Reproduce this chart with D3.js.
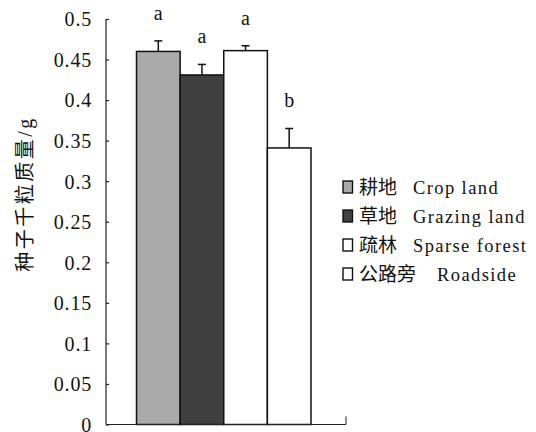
<!DOCTYPE html>
<html>
<head>
<meta charset="utf-8">
<script src="https://cdn.jsdelivr.net/npm/d3@7"></script>
<style>
  html, body { margin: 0; padding: 0; background: #fff; }
  svg { display: block; }
</style>
</head>
<body>
<svg id="chart" width="536" height="432"></svg>
<script>
// Thousand-seed mass by habitat type (mean ± SE) with significance letters
const categories = ["耕地 Crop land", "草地 Grazing land", "疏林 Sparse forest", "公路旁 Roadside"];
const cnNames = ["耕地", "草地", "疏林", "公路旁"];
const enNames = ["Crop land", "Grazing land", "Sparse forest", "Roadside"];
const means = [0.460, 0.431, 0.461, 0.341];
const errors = [0.013, 0.013, 0.006, 0.024];
const letters = ["a", "a", "a", "b"];
const yTicks = [0, 0.05, 0.1, 0.15, 0.2, 0.25, 0.3, 0.35, 0.4, 0.45, 0.5];
const yTickLabels = ["0", "0.05", "0.1", "0.15", "0.2", "0.25", "0.3", "0.35", "0.4", "0.45", "0.5"];
const yTitle = "种子千粒质量/g";

const fills = ["#aaaaaa", "#404040", "#ffffff", "#ffffff"];
const SERIF = "'Liberation Serif', 'DejaVu Serif', 'Noto Sans CJK SC', serif";

const svg = d3.select("#chart");

const plot = { left: 106, right: 346, top: 19, bottom: 424.5 };

const y = d3.scaleLinear().domain([0, 0.5]).range([plot.bottom, plot.top]);
const x = d3.scaleBand().domain(categories).range([136.5, 311]).paddingInner(0).paddingOuter(0);

// bars
svg.append("g").selectAll("rect")
  .data(categories)
  .join("rect")
  .attr("x", d => x(d))
  .attr("y", (d, i) => y(means[i]))
  .attr("width", x.bandwidth())
  .attr("height", (d, i) => y(0) - y(means[i]))
  .attr("fill", (d, i) => fills[i])
  .attr("stroke", "#111")
  .attr("stroke-width", 1.5);

// error bars (upper half only)
const eb = svg.append("g").attr("stroke", "#111").attr("stroke-width", 1.5);
categories.forEach((c, i) => {
  const cx = x(c) + x.bandwidth() / 2;
  eb.append("line").attr("x1", cx).attr("x2", cx).attr("y1", y(means[i])).attr("y2", y(means[i] + errors[i]));
  eb.append("line").attr("x1", cx - 4).attr("x2", cx + 4).attr("y1", y(means[i] + errors[i])).attr("y2", y(means[i] + errors[i]));
});

// significance letters
svg.append("g").selectAll("text")
  .data(categories)
  .join("text")
  .attr("x", d => x(d) + x.bandwidth() / 2)
  .attr("y", (d, i) => y(means[i] + errors[i]) - 21)
  .attr("text-anchor", "middle")
  .style("font-family", SERIF)
  .style("font-size", "20px")
  .attr("fill", "#111")
  .text((d, i) => letters[i]);

// y axis with inward ticks
const yAxis = d3.axisLeft(y)
  .tickValues(yTicks)
  .tickFormat((d, i) => yTickLabels[i])
  .tickSize(-3)
  .tickPadding(14);
const gy = svg.append("g").attr("transform", `translate(${plot.left},0)`).call(yAxis);
gy.attr("font-family", null);
gy.select(".domain").remove();
gy.append("line").attr("x1", 0).attr("x2", 0).attr("y1", plot.top).attr("y2", plot.bottom).attr("stroke", "#222").attr("stroke-width", 1.2);
gy.selectAll(".tick line").attr("stroke", "#222").attr("stroke-width", 1.2);
gy.selectAll(".tick text")
  .style("font-family", SERIF)
  .style("font-size", "20px")
  .style("letter-spacing", "0.8px")
  .attr("fill", "#111")
  .attr("dy", "0.34em");

// x baseline with end tick
svg.append("line").attr("x1", plot.left).attr("x2", plot.right).attr("y1", plot.bottom).attr("y2", plot.bottom)
  .attr("stroke", "#222").attr("stroke-width", 1.2);
svg.append("line").attr("x1", plot.right).attr("x2", plot.right).attr("y1", plot.bottom).attr("y2", plot.bottom - 8)
  .attr("stroke", "#444").attr("stroke-width", 1.2);

// y title
svg.append("text")
  .attr("transform", "translate(32,194) rotate(-90)")
  .attr("text-anchor", "middle")
  .style("font-family", SERIF)
  .style("font-size", "20px")
  .style("letter-spacing", "2.5px")
  .attr("fill", "#111")
  .text(yTitle);

// legend
const legend = svg.append("g").attr("transform", "translate(343,187)");
const rowH = 29;
const rows = legend.selectAll("g").data(categories).join("g")
  .attr("transform", (d, i) => `translate(0,${i * rowH})`);
rows.append("rect")
  .attr("x", 0).attr("y", -6).attr("width", 9.5).attr("height", 12)
  .attr("fill", (d, i) => fills[i])
  .attr("stroke", "#111").attr("stroke-width", 1.4);
rows.append("text")
  .attr("x", 16).attr("y", 0).attr("dy", "0.36em")
  .style("font-family", SERIF)
  .style("font-size", "19px")
  .attr("fill", "#111")
  .text((d, i) => cnNames[i]);
rows.append("text")
  .attr("x", (d, i) => cnNames[i].length === 3 ? 94 : 70)
  .attr("y", 0).attr("dy", "0.36em")
  .style("font-family", SERIF)
  .style("font-size", "18.5px")
  .style("letter-spacing", "1.4px")
  .attr("fill", "#111")
  .text((d, i) => enNames[i]);
</script>
</body>
</html>
